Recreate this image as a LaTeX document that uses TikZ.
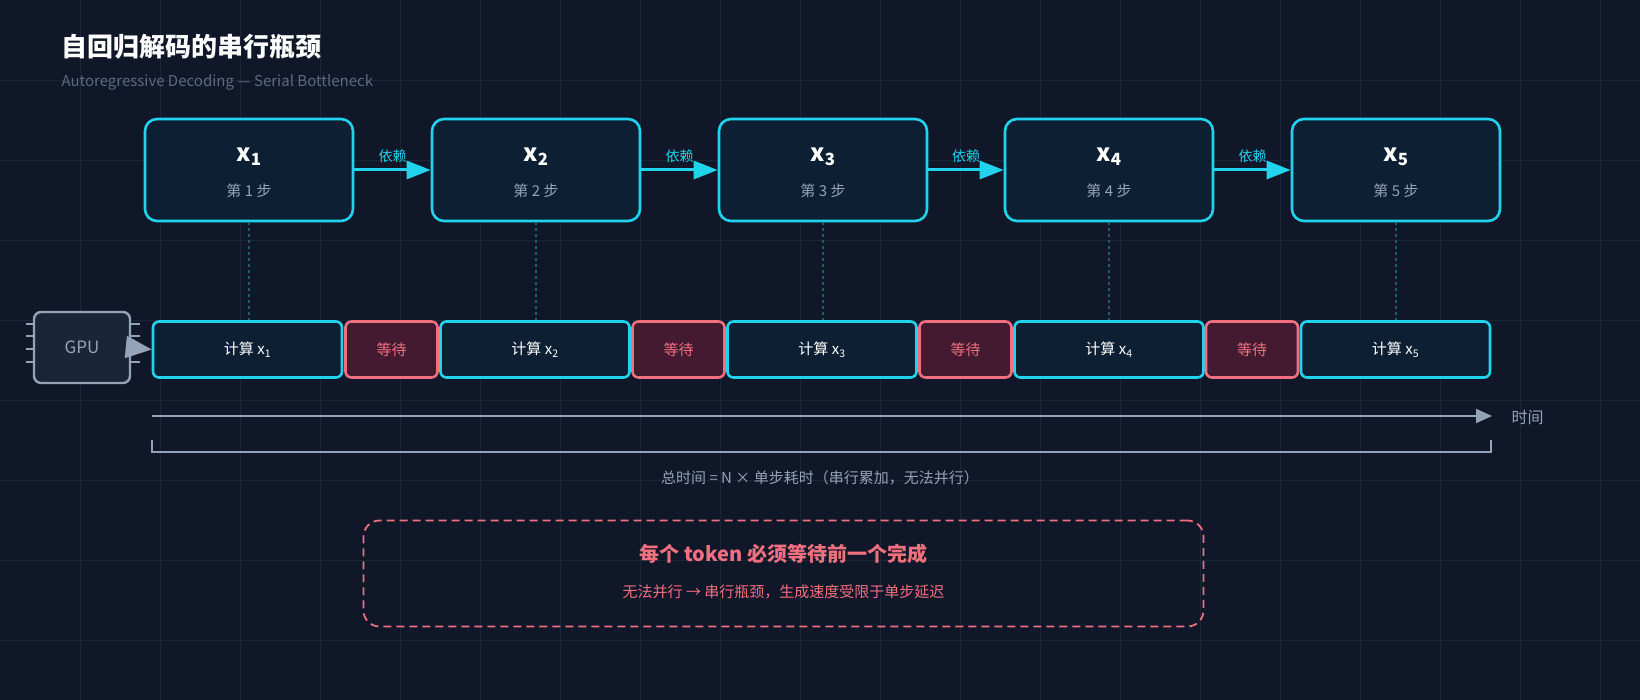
\documentclass[tikz,border=0pt]{standalone}
\usepackage{fontspec}
\setmainfont{Noto Sans CJK SC}
\usetikzlibrary{arrows.meta}
\definecolor{bg}{HTML}{0F1729}
\definecolor{gridc}{HTML}{1A2638}
\definecolor{cy}{HTML}{22D3EE}
\definecolor{boxf}{HTML}{0C1F33}
\definecolor{gr}{HTML}{94A3B8}
\definecolor{sub}{HTML}{5B6B82}
\definecolor{pk}{HTML}{F07080}
\definecolor{waitf}{HTML}{431A30}
\definecolor{vdcol}{HTML}{1E5C70}
\tikzset{
 tok/.style={draw=cy,line width=2.6pt,fill=boxf,rounded corners=12pt,minimum width=208pt,minimum height=102pt,inner sep=0pt},
 comp/.style={draw=cy,line width=2.6pt,fill=boxf,rounded corners=6pt,minimum width=189pt,minimum height=56pt,inner sep=0pt,text=white,font=\fontsize{15}{18}\selectfont},
 waitb/.style={draw=pk,line width=2.6pt,fill=waitf,rounded corners=6pt,minimum width=92pt,minimum height=56pt,inner sep=0pt,text=pk,font=\fontsize{15}{18}\selectfont},
 dep/.style={cy,line width=3pt,-{Triangle[length=24pt,width=18pt]}},
 vd/.style={draw=vdcol,line width=1.4pt,dashed},
}
\begin{document}
\begin{tikzpicture}[x=1pt,y=-1pt]
\fill[bg] (0,0) rectangle (1640,700);
\useasboundingbox (0,0) rectangle (1640,700);
\foreach \i in {80,160,...,1600} \draw[gridc,line width=0.8pt] (\i,0) -- (\i,700);
\foreach \j in {80,160,...,640} \draw[gridc,line width=0.8pt] (0,\j) -- (1640,\j);
\node[anchor=west,text=white,font=\fontsize{26}{30}\selectfont\bfseries] (title) at (58,47) {自回归解码的串行瓶颈};
\node[anchor=west,text=sub,font=\fontsize{15}{18}\selectfont] (subt) at (58,82) {Autoregressive Decoding — Serial Bottleneck};
% top boxes
\foreach \k/\x in {1/144,2/431,3/718,4/1004,5/1291}{
 \node[tok] (t\k) at (\x+105,170) {};
 \node[text=white,font=\fontsize{24}{28}\selectfont\bfseries] (tl\k) at (\x+105,157) {x\textsubscript{\k}};
 \node[text=gr,font=\fontsize{15}{18}\selectfont] (ts\k) at (\x+105,191) {第 \k\ 步};
}
\foreach \a/\b in {1/2,2/3,3/4,4/5}{
 \draw[dep] (t\a.east) -- (t\b.west) node[midway,above=3pt,text=cy,font=\fontsize{14}{16}\selectfont] {依赖};
}
% bottom row
\node[comp] (c1) at (247.5,349.5) {计算 x\textsubscript{1}};
\node[waitb] (w1) at (391.5,349.5) {等待};
\node[comp] (c2) at (535,349.5) {计算 x\textsubscript{2}};
\node[waitb] (w2) at (678.5,349.5) {等待};
\node[comp] (c3) at (822,349.5) {计算 x\textsubscript{3}};
\node[waitb] (w3) at (965.5,349.5) {等待};
\node[comp] (c4) at (1109,349.5) {计算 x\textsubscript{4}};
\node[waitb] (w4) at (1252,349.5) {等待};
\node[comp] (c5) at (1395.5,349.5) {计算 x\textsubscript{5}};
\foreach \k in {1,...,5} \draw[vd] (t\k.south) -- (t\k.south |- c\k.north);
% GPU
\foreach \yy in {324,336,349,362} {
 \draw[gr,line width=1.4pt] (26,\yy) -- (140,\yy);
}
\node[draw=gr,line width=2.4pt,fill=gridc,rounded corners=7pt,minimum width=96pt,minimum height=71pt,text=gr,font=\fontsize{17}{20}\selectfont] (gpu) at (82,347.5) {GPU};
\draw[gr,line width=2pt,-{Triangle[length=26pt,width=22pt]}] (gpu.east) -- (c1.west);
% time axis
\coordinate (ta) at (152,416);
\coordinate (tb) at (1492,416);
\draw[gr,line width=2pt,-{Triangle[length=16pt,width=14pt]}] (ta) -- (tb);
\node[anchor=west,text=gr,font=\fontsize{16}{18}\selectfont] (tlab) at (1508,417) {时间};
\coordinate (ba) at (152,440);
\coordinate (bb) at (1491,440);
\draw[gr,line width=2pt] (ba) -- ++(0,12) -| (bb);
\node[text=gr,font=\fontsize{15}{18}\selectfont] (tot) at (820,478) {总时间 = N × 单步耗时（串行累加，无法并行）};
% bottom note
\node[draw=pk,dash pattern=on 8pt off 5pt,line width=1.8pt,rounded corners=16pt,minimum width=840pt,minimum height=106pt] (note) at (783.5,573.5) {};
\node[text=pk,font=\fontsize{20}{24}\selectfont\bfseries] (nt) at (783.5,554) {每个 token 必须等待前一个完成};
\node[text=pk,font=\fontsize{15}{18}\selectfont] (ns) at (783.5,592) {无法并行 → 串行瓶颈，生成速度受限于单步延迟};
\end{tikzpicture}
\end{document}
